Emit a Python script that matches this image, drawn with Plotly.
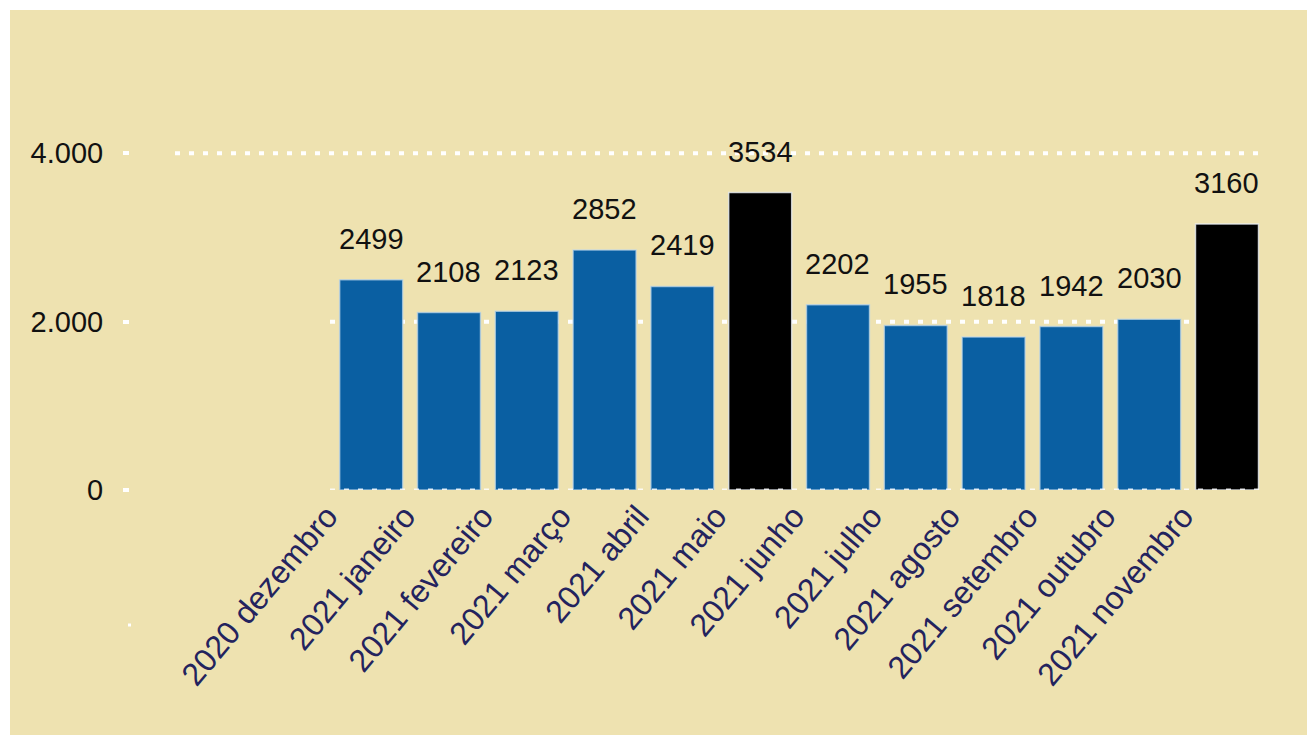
import plotly.graph_objects as go

categories = ["2020 dezembro", "2021 janeiro", "2021 fevereiro", "2021 março", "2021 abril",
              "2021 maio", "2021 junho", "2021 julho", "2021 agosto", "2021 setembro",
              "2021 outubro", "2021 novembro"]
values = [2499, 2108, 2123, 2852, 2419, 3534, 2202, 1955, 1818, 1942, 2030, 3160]
highlight = [False, False, False, False, False, True, False, False, False, False, False, True]
y_tickvals = [0, 2000, 4000]
y_ticktext = ["0", "2.000", "4.000"]

BEIGE = "#EEE2B0"
BLUE = "#0A5FA2"
FONT = "Liberation Sans, Arial, sans-serif"

W, H = 1307, 735
ML, MR, MT, MB = 130, 45, 86, 245
PW = W - ML - MR
PH = H - MT - MB

def px_x(p):
    return (p - ML) / PW

def px_y(p):
    return (H - MB - p) / PH

colors = ["#000000" if h else BLUE for h in highlight]
line_colors = ["rgba(235,240,245,0.8)" if h else "rgba(190,215,235,0.7)" for h in highlight]

fig = go.Figure()
fig.add_trace(go.Bar(
    x=list(range(len(categories))), y=values,
    marker=dict(color=colors, line=dict(color=line_colors, width=1.5)),
    hoverinfo="skip",
))

for i, v in enumerate(values):
    fig.add_annotation(x=i, y=v, text=str(v), showarrow=False, yshift=41,
                       font=dict(family=FONT, size=29, color="#111111"))

shapes = []
# white border (top and left)
shapes.append(dict(type="rect", xref="paper", yref="paper", x0=px_x(-5), x1=px_x(10),
                   y0=px_y(H + 5), y1=px_y(-5), fillcolor="white", line_width=0, layer="above"))
shapes.append(dict(type="rect", xref="paper", yref="paper", x0=px_x(-5), x1=px_x(W + 5),
                   y0=px_y(10), y1=px_y(-5), fillcolor="white", line_width=0, layer="above"))
# dotted gridlines
grid_start = {4000: 175, 2000: 330}
for val, start in grid_start.items():
    shapes.append(dict(type="line", xref="paper", yref="y", x0=px_x(start), x1=px_x(1262),
                       y0=val, y1=val, line=dict(color="white", width=4, dash="5px,9px"),
                       layer="below"))
shapes.append(dict(type="line", xref="paper", yref="y", x0=px_x(330), x1=px_x(1262),
                   y0=0, y1=0, line=dict(color="rgba(255,255,255,0.85)", width=3, dash="5px,9px"),
                   layer="above"))
# stray stub
shapes.append(dict(type="line", xref="paper", yref="paper", x0=px_x(128), x1=px_x(131),
                   y0=px_y(625), y1=px_y(625), line=dict(color="white", width=3)))

fig.update_layout(
    width=W, height=H,
    margin=dict(l=ML, r=MR, t=MT, b=MB, autoexpand=False),
    paper_bgcolor=BEIGE, plot_bgcolor="rgba(0,0,0,0)",
    separators=",.",
    bargap=0.19,
    showlegend=False,
    shapes=shapes,
    xaxis=dict(range=[-3.1, 11.45], tickmode="array", tickvals=list(range(len(categories))),
               ticktext=categories, tickangle=-50, showgrid=False, zeroline=False,
               showline=False, ticks="", automargin=False, ticklabelshift=-44,
               tickfont=dict(family=FONT, size=32, color="#23235e")),
    yaxis=dict(range=[0, 4800], tickmode="array", tickvals=y_tickvals, ticktext=y_ticktext,
               showgrid=False, zeroline=False, showline=False, ticks="outside", ticklen=6,
               tickwidth=4, tickcolor="white", ticklabelstandoff=14, automargin=False,
               tickfont=dict(family=FONT, size=29, color="#111111")),
)

fig.write_html("out.html", config={"displayModeBar": False},
               post_script="document.body.style.margin='0';document.body.style.overflow='hidden';")
